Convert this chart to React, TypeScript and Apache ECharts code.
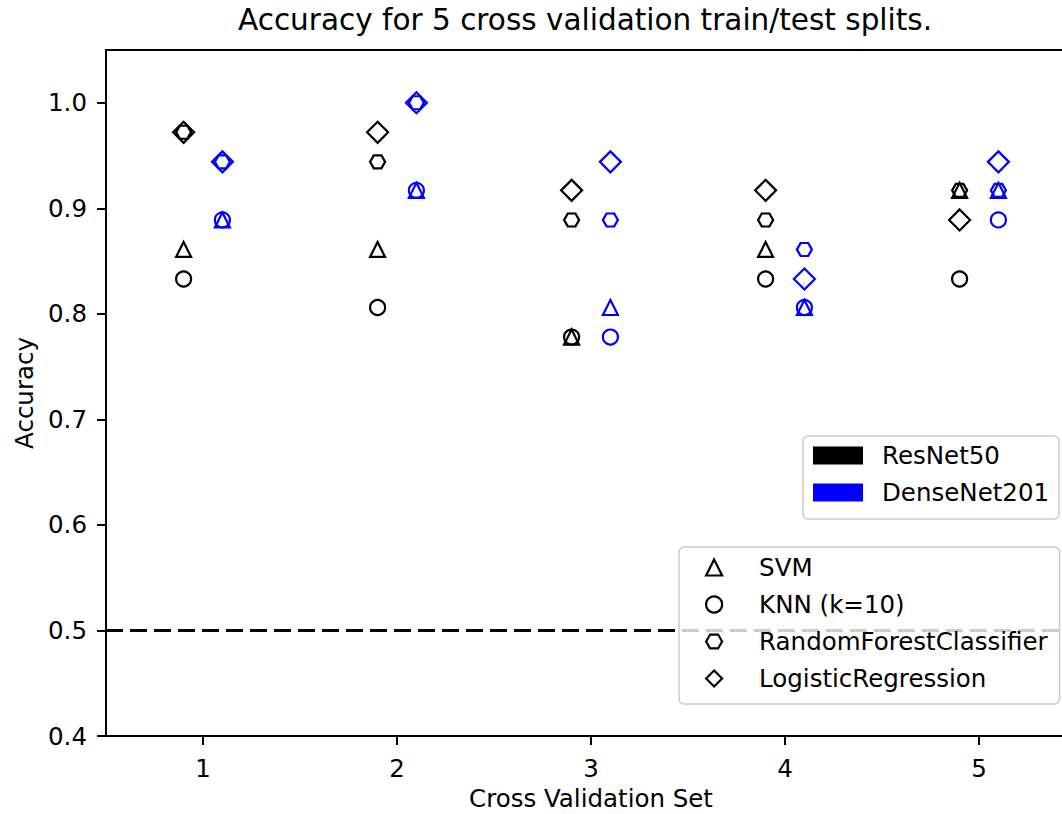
import { useEffect, useRef } from "react";
import * as echarts from "echarts";

const cvSets = [1, 2, 3, 4, 5];
const xTickValues = [1, 2, 3, 4, 5];
const yTickValues = [0.4, 0.5, 0.6, 0.7, 0.8, 0.9, 1.0];
const models = ["ResNet50", "DenseNet201"];
const modelColors = ["#000000", "#0000ff"];
const modelOffsets = [-0.1, 0.1];
const classifiers = ["SVM", "KNN (k=10)", "RandomForestClassifier", "LogisticRegression"];
const chanceLevel = 0.5;

// accuracy per classifier for each CV set, ResNet50
const resnetSVM = [0.861, 0.861, 0.778, 0.861, 0.917];
const resnetKNN = [0.833, 0.806, 0.778, 0.833, 0.833];
const resnetRF = [0.972, 0.944, 0.889, 0.889, 0.917];
const resnetLR = [0.972, 0.972, 0.917, 0.917, 0.889];
// DenseNet201
const densenetSVM = [0.889, 0.917, 0.806, 0.806, 0.917];
const densenetKNN = [0.889, 0.917, 0.778, 0.806, 0.889];
const densenetRF = [0.944, 1.0, 0.889, 0.861, 0.917];
const densenetLR = [0.944, 1.0, 0.944, 0.833, 0.944];

const values = [
  [resnetSVM, resnetKNN, resnetRF, resnetLR],
  [densenetSVM, densenetKNN, densenetRF, densenetLR],
];

const HEX = "path://M0,8.66 L5,0 L15,0 L20,8.66 L15,17.32 L5,17.32 Z";
const symbols = ["triangle", "circle", HEX, "diamond"];
const symbolSizes: any[] = [15, 15, [15, 13], 21];

const FONT = "DejaVu Sans";

export default function App() {
  const ref = useRef<HTMLDivElement>(null);
  useEffect(() => {
    if (!ref.current) return;
    const chart = echarts.init(ref.current, null, { renderer: "svg" });

    const series: any[] = [];
    models.forEach((m, mi) => {
      classifiers.forEach((c, ci) => {
        series.push({
          type: "scatter",
          name: m + " " + c,
          symbol: symbols[ci],
          symbolSize: symbolSizes[ci],
          itemStyle: {
            color: "rgba(0,0,0,0)",
            borderColor: modelColors[mi],
            borderWidth: 2.2,
            opacity: 1,
          },
          data: cvSets.map((s, i) => [s + modelOffsets[mi], values[mi][ci][i]]),
          z: 3,
        });
      });
    });
    // chance line
    series.push({
      type: "line",
      name: "chance",
      data: [],
      silent: true,
      markLine: {
        silent: true,
        symbol: "none",
        label: { show: false },
        lineStyle: { color: "#000", width: 3, type: [17, 7], opacity: 1 },
        data: [{ yAxis: chanceLevel }],
        z: 1,
      },
      z: 1,
    });
    // legend-only series
    models.forEach((m, mi) => {
      series.push({
        type: "scatter",
        name: m,
        data: [],
        symbol: "rect",
        itemStyle: { color: modelColors[mi], opacity: 1 },
      });
    });
    classifiers.forEach((c, ci) => {
      series.push({
        type: "scatter",
        name: c,
        data: [],
        symbol: symbols[ci],
        itemStyle: { color: "rgba(0,0,0,0)", borderColor: "#000", borderWidth: 2.2, opacity: 1 },
      });
    });

    const legendText = {
      fontFamily: FONT,
      fontSize: 24.5,
      color: "#000",
    };

    chart.setOption({
      animation: false,
      title: {
        text: "Accuracy for 5 cross validation train/test splits.",
        left: 233,
        top: 0,
        padding: 5,
        textStyle: { fontFamily: FONT, fontSize: 29.5, fontWeight: "normal", color: "#000" },
      },
      grid: {
        left: 106,
        right: -14,
        top: 50,
        bottom: 78,
        show: true,
        borderColor: "#000",
        borderWidth: 2,
        backgroundColor: "transparent",
        outerBoundsMode: "none",
        containLabel: false,
      },
      legend: [
        {
          orient: "vertical",
          left: 803,
          top: 436,
          z: 20,
          padding: [7, 10, 14, 10],
          itemWidth: 50,
          itemHeight: 18,
          itemGap: 12,
          icon: "rect",
          backgroundColor: "rgba(255,255,255,0.8)",
          borderColor: "#cccccc",
          borderWidth: 1.5,
          borderRadius: 5,
          selectedMode: false,
          data: models.map((m, mi) => ({
            name: m,
            icon: "rect",
            itemStyle: { color: modelColors[mi], borderWidth: 0, opacity: 1 },
          })),
          formatter: (n: string) => "{a|" + n + "}",
          textStyle: { ...legendText, rich: { a: { ...legendText, padding: [0, 0, 0, 14] } } },
        },
        {
          orient: "vertical",
          left: 679,
          top: 547,
          z: 20,
          padding: [8, 12, 13, 26],
          itemWidth: 16,
          itemHeight: 16,
          itemGap: 12,
          backgroundColor: "rgba(255,255,255,0.8)",
          borderColor: "#cccccc",
          borderWidth: 1.5,
          borderRadius: 5,
          selectedMode: false,
          data: classifiers.map((c, ci) => ({
            name: c,
            icon: symbols[ci],
            itemStyle: { color: "rgba(0,0,0,0)", borderColor: "#000", borderWidth: 2.2, opacity: 1 },
          })),
          formatter: (n: string) => "{a|" + n + "}",
          textStyle: { ...legendText, rich: { a: { ...legendText, padding: [0, 0, 0, 32] } } },
        },
      ],
      xAxis: {
        type: "value",
        min: 0.5,
        max: 5.5,
        name: "Cross Validation Set",
        nameLocation: "middle",
        nameGap: 50,
        nameTextStyle: { fontFamily: FONT, fontSize: 24.5, color: "#000" },
        axisLine: { show: true, onZero: false, lineStyle: { color: "#000", width: 2 } },
        axisTick: { show: true, length: 9, lineStyle: { color: "#000", width: 2 }, customValues: xTickValues },
        axisLabel: { fontFamily: FONT, fontSize: 24.5, color: "#000", margin: 20, customValues: xTickValues },
        splitLine: { show: false },
      },
      yAxis: {
        type: "value",
        min: 0.4,
        max: 1.05,
        name: "Accuracy",
        nameLocation: "middle",
        nameGap: 69,
        nameTextStyle: { fontFamily: FONT, fontSize: 24.5, color: "#000" },
        axisLine: { show: true, onZero: false, lineStyle: { color: "#000", width: 2 } },
        axisTick: { show: true, length: 9, lineStyle: { color: "#000", width: 2 }, customValues: yTickValues },
        axisLabel: {
          fontFamily: FONT,
          fontSize: 24.5,
          color: "#000",
          margin: 19,
          customValues: yTickValues,
          formatter: (v: number) => v.toFixed(1),
        },
        splitLine: { show: false },
      },
      series,
    });
    return () => chart.dispose();
  }, []);
  return (
    <div
      ref={ref}
      style={{ position: "absolute", left: 0, top: 0, width: 1062, height: 814, overflow: "hidden", background: "#fff" }}
    />
  );
}
